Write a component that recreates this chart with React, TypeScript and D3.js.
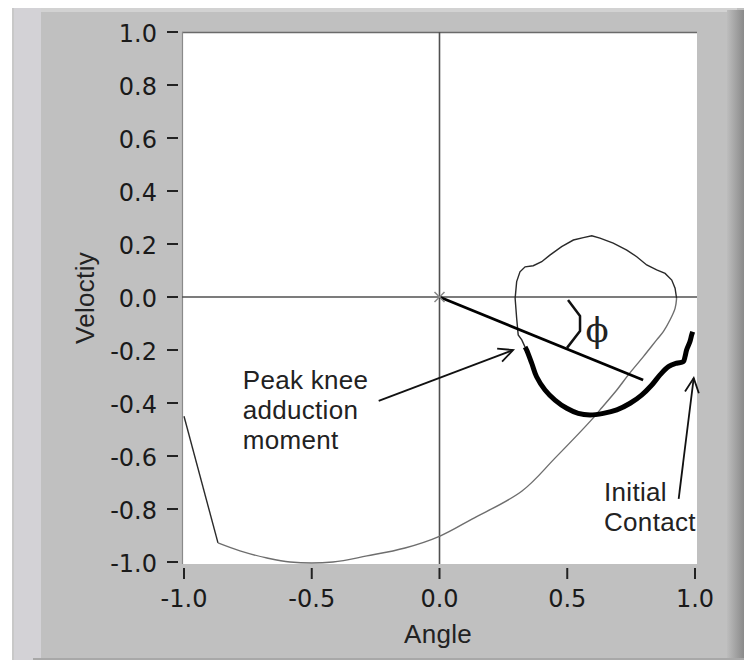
import React from "react";
import * as d3 from "d3";

const xTicks = [-1.0, -0.5, 0.0, 0.5, 1.0];
const yTicks = [1.0, 0.8, 0.6, 0.4, 0.2, 0.0, -0.2, -0.4, -0.6, -0.8, -1.0];

// thin trajectory: swing arc (gray)
const swingArc: [number, number][] = [
  [-1.0, -0.45], [-0.867, -0.928], [-0.781, -0.958], [-0.675, -0.985], [-0.585, -1.0],
  [-0.417, -1.0], [-0.284, -0.977], [-0.135, -0.947], [0.002, -0.902], [0.127, -0.838],
  [0.323, -0.732], [0.452, -0.608], [0.601, -0.457], [0.628, -0.426], [0.694, -0.351],
  [0.739, -0.294], [0.798, -0.225], [0.85, -0.162], [0.876, -0.131], [0.902, -0.087],
  [0.922, -0.043], [0.928, -0.005],
];
// thin trajectory: upper loop
const loop: [number, number][] = [
  [0.928, -0.005], [0.922, 0.033], [0.909, 0.064], [0.883, 0.089], [0.85, 0.102],
  [0.811, 0.121], [0.772, 0.152], [0.733, 0.177], [0.68, 0.203], [0.628, 0.222],
  [0.596, 0.231], [0.563, 0.224], [0.524, 0.215], [0.478, 0.19], [0.432, 0.158],
  [0.4, 0.133], [0.367, 0.118], [0.335, 0.114], [0.315, 0.095], [0.302, 0.058],
  [0.296, -0.005], [0.302, -0.08], [0.308, -0.143], [0.322, -0.162], [0.335, -0.189],
];
// thick trajectory: stance
const stance: [number, number][] = [
  [0.335, -0.189], [0.341, -0.2], [0.361, -0.25], [0.38, -0.301], [0.413, -0.351],
  [0.452, -0.389], [0.498, -0.42], [0.543, -0.439], [0.589, -0.445], [0.641, -0.439],
  [0.694, -0.426], [0.746, -0.401], [0.791, -0.37], [0.831, -0.332], [0.863, -0.294],
  [0.896, -0.263], [0.928, -0.25], [0.954, -0.244], [0.961, -0.225], [0.967, -0.2],
  [0.98, -0.169], [0.987, -0.143], [0.991, -0.131],
];
const phaseVector: [number, number][] = [[0, 0], [0.797, -0.313]];
const phiBracket: [number, number][] = [[0.503, -0.011], [0.55, -0.072], [0.55, -0.128], [0.499, -0.192]];
const peakArrow: [number, number][] = [[-0.238, -0.392], [0.288, -0.2]];
const contactArrow: [number, number][] = [[0.936, -0.762], [0.995, -0.306]];
const peakLabel = ["Peak knee", "adduction", "moment"];
const contactLabel = ["Initial", "Contact"];

const W = 744, H = 662;
const x = d3.scaleLinear().domain([-1, 1]).range([184, 695]);
const y = d3.scaleLinear().domain([-1, 1]).range([562, 32]);
const line = d3.line<[number, number]>().x((d) => x(d[0])).y((d) => y(d[1]));
const smooth = d3.line<[number, number]>().x((d) => x(d[0])).y((d) => y(d[1])).curve(d3.curveCatmullRom.alpha(0.5));
const fmt = (t: number) => d3.format(".1f")(t).replace("\u2212", "-");

function arrowHead(p: [number, number][]) {
  const [a, b] = p;
  const x1 = x(a[0]), y1 = y(a[1]), x2 = x(b[0]), y2 = y(b[1]);
  const ang = Math.atan2(y2 - y1, x2 - x1);
  const L = 16, s = 0.45;
  const p1 = [x2 - L * Math.cos(ang - s), y2 - L * Math.sin(ang - s)];
  const p2 = [x2 - L * Math.cos(ang + s), y2 - L * Math.sin(ang + s)];
  return `M${p1[0]},${p1[1]}L${x2},${y2}L${p2[0]},${p2[1]}`;
}

export default function App() {
  const tickFont = "'DejaVu Sans', Verdana, sans-serif";
  const textFont = "'Liberation Sans', Arial, sans-serif";
  const ox = x(0), oy = y(0);
  return (
    <div style={{ position: "absolute", left: 0, top: 0 }}>
      <svg width={W} height={H} style={{ display: "block", background: "#fff" }}>
        <defs>
          <linearGradient id="rg" x1="0" x2="1" y1="0" y2="0">
            <stop offset="0" stopColor="#bdbdbd" />
            <stop offset="1" stopColor="#8a8a8a" />
          </linearGradient>
        </defs>
        {/* frame */}
        <rect x={12} y={8} width={732} height={652} fill="#c0c0c0" />
        <rect x={12} y={8} width={725} height={4} fill="#d2d2d2" />
        <rect x={12} y={8} width={2} height={652} fill="#c8c8c8" />
        <rect x={14} y={8} width={27} height={652} fill="#d3d2d6" />
        <rect x={727} y={10} width={17} height={650} fill="url(#rg)" />
        <rect x={33} y={658} width={711} height={2} fill="#a8a8a8" />
        {/* plot area */}
        <rect x={182} y={32} width={515} height={532} fill="#fff" />
        <line x1={182} x2={697} y1={32.5} y2={32.5} stroke="#6a6a6a" strokeWidth={1.5} />
        <line x1={182.5} x2={182.5} y1={32} y2={564} stroke="#8a8a8a" strokeWidth={1.2} />
        {/* axis lines through origin */}
        <line x1={182} x2={697} y1={oy} y2={oy} stroke="#505050" strokeWidth={1.6} />
        <line x1={ox} x2={ox} y1={32} y2={564} stroke="#505050" strokeWidth={1.6} />
        {/* y ticks */}
        {yTicks.map((t) => (
          <g key={"y" + t}>
            <line x1={167} x2={178} y1={y(t)} y2={y(t)} stroke="#222" strokeWidth={2} />
            <text x={157} y={y(t) + 9.5} textAnchor="end" fontFamily={tickFont} fontSize={24} fill="#1a1a1a">
              {fmt(t)}
            </text>
          </g>
        ))}
        {/* x ticks */}
        {xTicks.map((t) => (
          <g key={"x" + t}>
            <line x1={x(t)} x2={x(t)} y1={568} y2={579} stroke="#222" strokeWidth={2} />
            <text x={x(t)} y={607} textAnchor="middle" fontFamily={tickFont} fontSize={24} fill="#1a1a1a">
              {fmt(t)}
            </text>
          </g>
        ))}
        {/* axis titles */}
        <text x={438} y={643} textAnchor="middle" fontFamily={textFont} fontSize={26} letterSpacing={0.3} fill="#222">
          Angle
        </text>
        <text transform="translate(94,298) rotate(-90)" textAnchor="middle" fontFamily={textFont} fontSize={26} letterSpacing={0.3} fill="#222">
          Veloctiy
        </text>
        {/* data */}
        <path d={line(swingArc.slice(0, 2)) || ""} fill="none" stroke="#2a2a2a" strokeWidth={1.4} />
        <path d={smooth(swingArc.slice(1)) || ""} fill="none" stroke="#6e6e6e" strokeWidth={1.4} />
        <path d={line(loop) || ""} fill="none" stroke="#2a2a2a" strokeWidth={1.4} />
        <path d={smooth(stance) || ""} fill="none" stroke="#000" strokeWidth={5} strokeLinejoin="round" />
        <path d={line(phaseVector) || ""} fill="none" stroke="#000" strokeWidth={2.8} />
        <path d={line(phiBracket) || ""} fill="none" stroke="#111" strokeWidth={2.5} strokeLinejoin="round" />
        <text x={x(0.617)} y={y(-0.17)} textAnchor="middle" fontFamily="'DejaVu Serif', serif" fontSize={34} fill="#222">
          ϕ
        </text>
        {/* origin marker */}
        <path d={`M${ox - 5},${oy - 5}L${ox + 5},${oy + 5}M${ox - 5},${oy + 5}L${ox + 5},${oy - 5}`} stroke="#888" strokeWidth={1.5} />
        {/* annotations */}
        <path d={line(peakArrow) || ""} fill="none" stroke="#111" strokeWidth={1.8} />
        <path d={arrowHead(peakArrow)} fill="none" stroke="#111" strokeWidth={1.8} />
        <path d={line(contactArrow) || ""} fill="none" stroke="#111" strokeWidth={1.8} />
        <path d={arrowHead(contactArrow)} fill="none" stroke="#111" strokeWidth={1.8} />
        {peakLabel.map((s, i) => (
          <text key={s} x={x(-0.77)} y={y(-0.347 - i * 0.113)} fontFamily={textFont} fontSize={26} letterSpacing={0.3} fill="#222">
            {s}
          </text>
        ))}
        {contactLabel.map((s, i) => (
          <text key={s} x={x(0.644)} y={y(-0.77 - i * 0.113)} fontFamily={textFont} fontSize={26} letterSpacing={0.3} fill="#222">
            {s}
          </text>
        ))}
      </svg>
    </div>
  );
}
